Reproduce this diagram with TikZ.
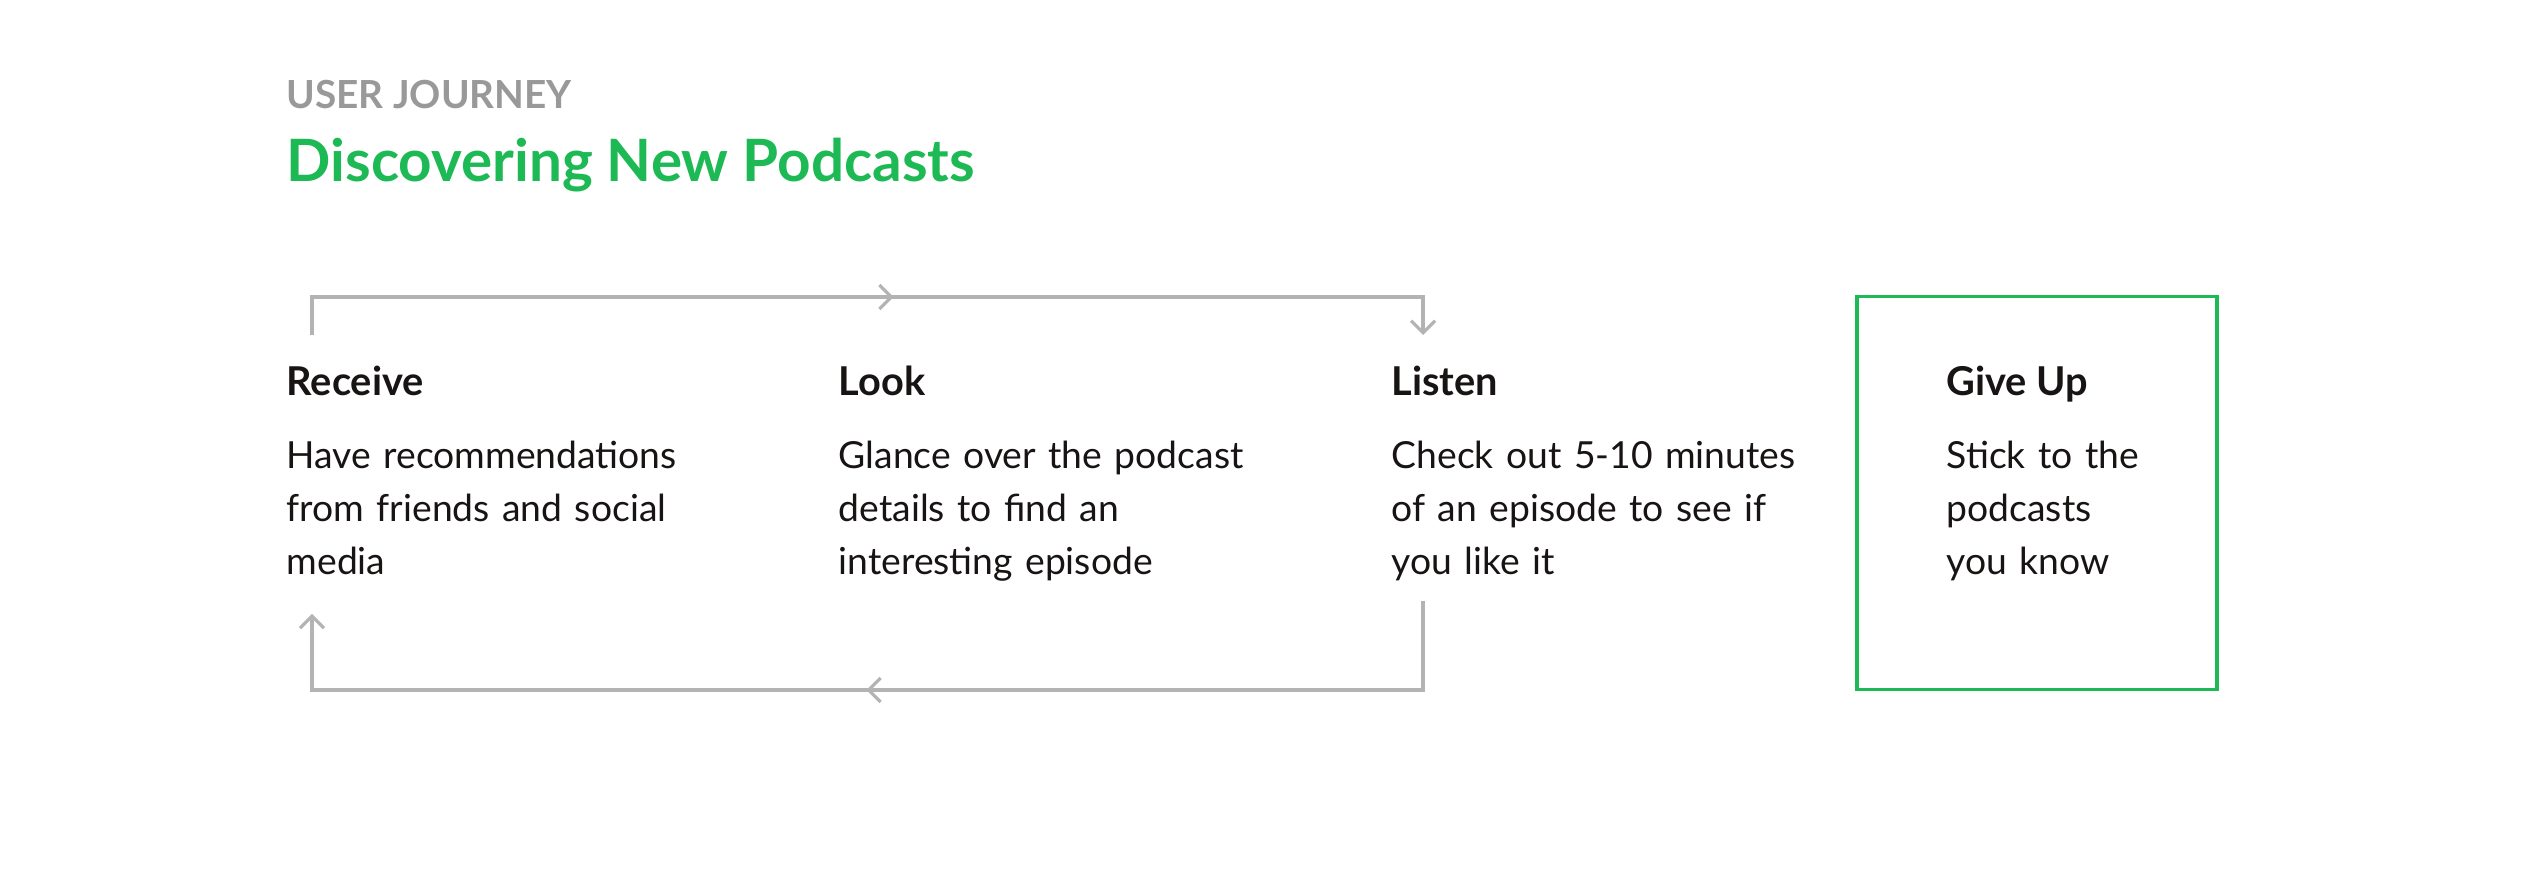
\documentclass[tikz,border=0pt]{standalone}
\usepackage{fontspec}
\setmainfont{Lato}
\usetikzlibrary{arrows.meta,decorations.markings}
\definecolor{spgreen}{HTML}{1DB954}
\definecolor{spgray}{HTML}{999999}
\definecolor{linegray}{HTML}{B3B3B3}
\definecolor{inkblack}{HTML}{191414}

\begin{document}
\begin{tikzpicture}[
		x=0.01cm, y=-0.01cm,
		heading/.style={anchor=base west, inner sep=0, font=\fontsize{11.3pt}{14pt}\selectfont\bfseries, text=inkblack},
		desc/.style={anchor=north west, inner sep=0, text width=5cm, align=left, font=\fontsize{10.6pt}{15.1pt}\selectfont, text=inkblack},
		flow/.style={draw=linegray, line width=0.9pt, -{Straight Barb[length=1.2mm,width=2.4mm]},
			postaction={decorate}, decoration={markings, mark=at position #1 with {\arrow[linegray]{Straight Barb[length=1.2mm,width=2.4mm]}}}},
		endbox/.style={draw=spgreen, line width=1pt, minimum width=3.6cm, minimum height=3.93cm}
	]
	\fill[white] (0,0) rectangle (2548,886);

	% Title
	\node[anchor=base west, inner sep=0, font=\fontsize{11pt}{14pt}\selectfont\bfseries, text=spgray] (kicker) at (286,109) {USER JOURNEY};
	\node[anchor=base west, inner sep=0, font=\fontsize{16.6pt}{20pt}\selectfont\bfseries, text=spgreen] (title) at (286,182) {Discovering New Podcasts};

	% Receive
	\node[heading] (receive) at (286,396) {Receive};
	\node[desc] (receiveText) at (286,440) {Have recommendations\\from friends and social\\media};

	% Look
	\node[heading] (look) at (838,396) {Look};
	\node[desc] (lookText) at (838,440) {Glance over the podcast\\details to find an\\interesting episode};

	% Listen
	\node[heading] (listen) at (1391,396) {Listen};
	\node[desc] (listenText) at (1391,440) {Check out 5-10 minutes\\of an episode to see if\\you like it};

	% Give Up
	\node[endbox] (giveupBox) at (2037,493) {};
	\node[heading] (giveup) at (1946,396) {Give Up};
	\node[desc] (giveupText) at (1946,440) {Stick to the\\podcasts\\you know};

	% loop
	\coordinate (receiveTop) at (312,335);
	\coordinate (listenTop) at (1423,335);
	\coordinate (listenBottom) at (1423,601);
	\coordinate (receiveBottom) at (312,614);

	\draw[flow=0.522] (receiveTop) -- (312,297) -- (1423,297) -- (listenTop);
	\draw[flow=0.506] (listenBottom) -- (1423,690) -- (312,690) -- (receiveBottom);

\end{tikzpicture}
\end{document}
